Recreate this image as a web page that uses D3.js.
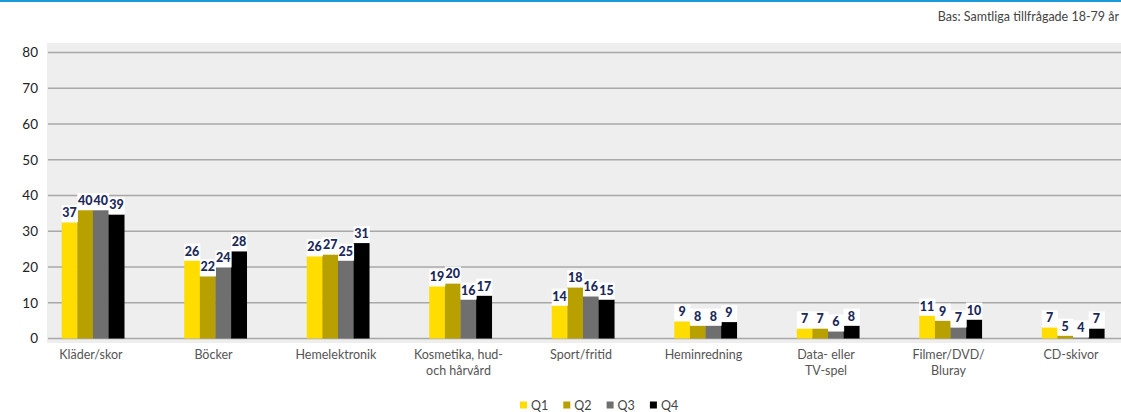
<!DOCTYPE html>
<html><head><meta charset="utf-8">
<script src="https://cdn.jsdelivr.net/npm/d3@7/dist/d3.min.js"></script>
<style>
html,body{margin:0;padding:0;background:#fff;overflow:hidden}
svg{display:block;font-family:Lato,"Open Sans",sans-serif}
</style></head><body>
<svg id="chart" width="1121" height="412"></svg>
<script>
const categories = [["Kläder/skor"],["Böcker"],["Hemelektronik"],["Kosmetika, hud-","och hårvård"],["Sport/fritid"],["Heminredning"],["Data- eller","TV-spel"],["Filmer/DVD/","Bluray"],["CD-skivor"]];
const series = ["Q1","Q2","Q3","Q4"];
// printed value labels
const labelsQ1 = [37,26,26,19,14,9,7,11,7];
const labelsQ2 = [40,22,27,20,18,8,7,9,5];
const labelsQ3 = [40,24,25,16,16,8,6,7,4];
const labelsQ4 = [39,28,31,17,15,9,8,10,7];
// bar heights as drawn in the picture
const barsQ1 = [32.5,21.8,23.0,14.6,9.2,4.8,2.8,6.4,3.1];
const barsQ2 = [35.9,17.4,23.5,15.4,14.3,3.6,2.8,5.0,0.8];
const barsQ3 = [35.9,19.9,21.8,10.9,11.8,3.6,2.0,3.1,0.3];
const barsQ4 = [34.7,24.4,26.7,12.0,10.9,4.6,3.6,5.3,2.8];
const yTicks = [0,10,20,30,40,50,60,70,80];
const colors = ["#ffdd00","#b8a000","#6f6f6f","#000000"];
const subtitle = "Bas: Samtliga tillfrågade 18-79 år";

const bars = [barsQ1,barsQ2,barsQ3,barsQ4];
const labels = [labelsQ1,labelsQ2,labelsQ3,labelsQ4];
const svg = d3.select("#chart");
const W = 1121;
const plotL = 48, plotR = 1118, plotTop = 43, plotBottom = 343;
const catKeys = categories.map(c => c.join(" "));

const x = d3.scaleBand().domain(catKeys).range([plotL, plotR]).paddingInner(0.49).paddingOuter(0.112);
const xs = d3.scaleBand().domain(series).range([0, x.bandwidth()]);
const y = d3.scaleLinear().domain([0,80]).range([338.5, 52.5]);

// top blue rule
svg.append("rect").attr("x",0).attr("y",0).attr("width",W).attr("height",2).attr("fill","#1a9ad6");
// subtitle
svg.append("text").attr("x",1119).attr("y",21).attr("font-size",12.5).attr("fill","#444")
  .attr("text-anchor","end").text(subtitle);
// plot bg
svg.append("rect").attr("x",47).attr("y",plotTop).attr("width",W-47).attr("height",plotBottom-plotTop).attr("fill","#eeeeee");

// grid
svg.append("g").selectAll("line").data(yTicks).join("line")
  .attr("x1",48).attr("x2",W).attr("y1",d=>y(d)).attr("y2",d=>y(d))
  .attr("stroke","#a8a8a8").attr("stroke-width",1.3);

// y axis labels
const yAxis = d3.axisLeft(y).tickValues(yTicks).tickSize(0).tickPadding(0);
const ya = svg.append("g").attr("transform","translate(38,0)").call(yAxis);
ya.select(".domain").remove();
ya.selectAll("text").attr("font-size",13.5).attr("fill","#222").attr("font-family","Lato,'Open Sans',sans-serif").attr("text-anchor","end");

// bars
const groups = svg.append("g").selectAll("g").data(catKeys).join("g")
  .attr("transform",d=>`translate(${x(d)},0)`);
groups.each(function(c,ci){
  const g = d3.select(this);
  series.forEach((s,si)=>{
    const v = bars[si][ci];
    g.append("rect").attr("x",xs(s)).attr("width",xs.bandwidth()+0.3)
      .attr("y",y(v)).attr("height",y(0)-y(v)).attr("fill",colors[si]);
  });
  series.forEach((s,si)=>{
    const v = bars[si][ci];
    g.append("rect").attr("x",xs(s)).attr("width",xs.bandwidth()+0.5)
      .attr("y",y(v)-17).attr("height",17).attr("fill","#fff");
  });
  series.forEach((s,si)=>{
    const v = bars[si][ci];
    g.append("text").attr("x",xs(s)+xs.bandwidth()/2).attr("y",y(v)-5)
      .attr("text-anchor","middle").attr("font-size",12.5).attr("font-weight",900)
      .attr("fill","#1b2a5a").text(labels[si][ci]);
  });
});

// category labels
const xAxisG = svg.append("g");
categories.forEach((lines,ci)=>{
  const t = xAxisG.append("text").attr("x",x(catKeys[ci])+x.bandwidth()/2-2).attr("y",359)
    .attr("text-anchor","middle").attr("font-size",12.5).attr("fill","#555");
  lines.forEach((ln,li)=>t.append("tspan").attr("x",x(catKeys[ci])+x.bandwidth()/2-2).attr("dy",li?15.5:0).text(ln));
});

// legend
const leg = svg.append("g").attr("transform","translate(517,405)");
series.forEach((s,si)=>{
  const lg = leg.append("g").attr("transform",`translate(${si*43.3},0)`);
  lg.append("rect").attr("x",3).attr("y",-3.5).attr("width",7).attr("height",7).attr("fill",colors[si]);
  lg.append("text").attr("x",14).attr("y",4.5).attr("font-size",12.5).attr("fill","#444").text(s);
});
</script></body></html>
